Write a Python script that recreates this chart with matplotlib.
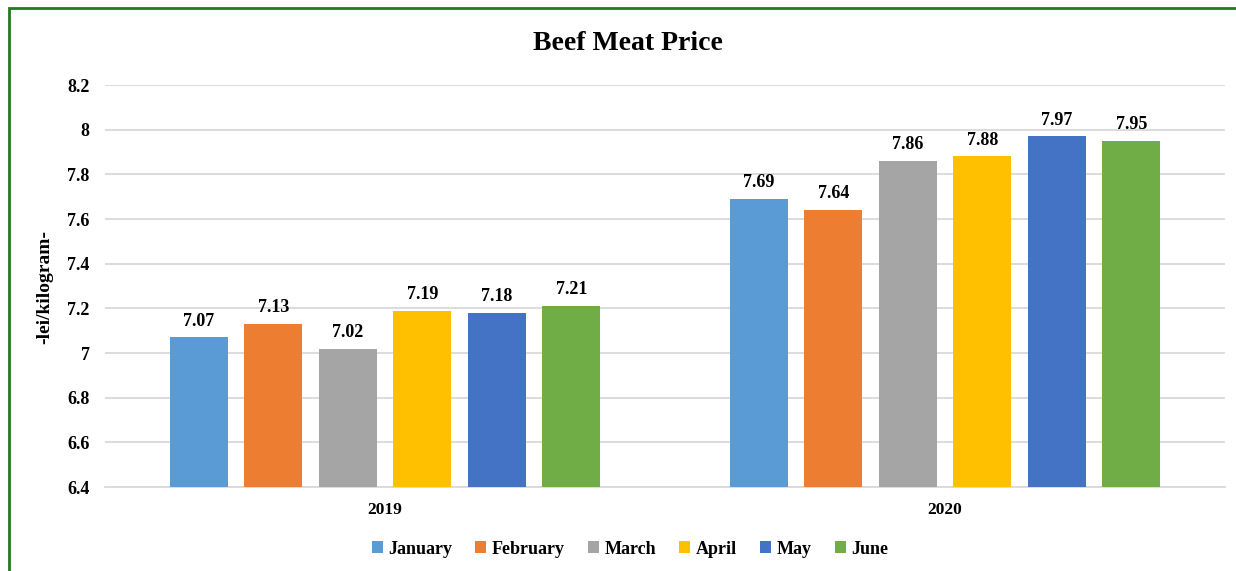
import matplotlib
matplotlib.use("Agg")
import matplotlib.pyplot as plt
from matplotlib.patches import Rectangle
import numpy as np

years = ["2019", "2020"]
months = ["January", "February", "March", "April", "May", "June"]
values = {
    "January": [7.07, 7.69],
    "February": [7.13, 7.64],
    "March": [7.02, 7.86],
    "April": [7.19, 7.88],
    "May": [7.18, 7.97],
    "June": [7.21, 7.95],
}
colors = ["#5B9BD5", "#ED7D31", "#A5A5A5", "#FFC000", "#4472C4", "#70AD47"]
yticks = [6.4, 6.6, 6.8, 7, 7.2, 7.4, 7.6, 7.8, 8, 8.2]

plt.rcParams['font.family'] = ['Liberation Serif', 'DejaVu Serif']

fig = plt.figure(figsize=(12.36, 5.71), dpi=100)
ax = fig.add_axes([105/1236, 1-487/571, (1225-105)/1236, (487-85)/571])

x = np.arange(len(years))
slot = 0.133
bw = 0.1036
for i, m in enumerate(months):
    pos = x + (i - 2.5) * slot
    bars = ax.bar(pos, values[m], width=bw, color=colors[i], label=m, zorder=3)
    for b, v in zip(bars, values[m]):
        ax.text(b.get_x() + b.get_width()/2, v + 0.035, f"{v:.2f}", ha='center', va='bottom',
                fontsize=13, fontweight='bold', zorder=4)

ax.set_xlim(-0.5, 1.5)
ax.set_ylim(6.4, 8.2)
ax.set_yticks(yticks)
ax.set_yticklabels([f"{t:g}" for t in yticks], fontsize=13, fontweight='bold')
ax.set_xticks(x)
ax.set_xticklabels(years, fontsize=12.5, fontweight='bold')
ax.tick_params(axis='both', length=0)
ax.tick_params(axis='y', pad=11)
ax.tick_params(axis='x', pad=11)
ax.grid(axis='y', color='#d9d9d9', linewidth=1.3, zorder=0)
for s in ['top', 'right', 'left']:
    ax.spines[s].set_visible(False)
ax.spines['bottom'].set_color('#d9d9d9')
ax.spines['bottom'].set_linewidth(1.3)

fig.text(45/1236, 1-287/571, "-lei/kilogram-", rotation=90, ha='center', va='center',
         fontsize=14, fontweight='bold')
fig.text(628/1236, 1-43/571, "Beef Meat Price", ha='center', va='center', fontsize=20, fontweight='bold')

leg = fig.legend(loc='center', bbox_to_anchor=(630/1236, 1-549/571), ncol=6, frameon=False,
                 prop={'weight': 'bold', 'size': 13}, handlelength=0.6, handleheight=0.6,
                 handletextpad=0.3, columnspacing=1.3)

fig.patches.append(Rectangle((9/1236, -0.1), 1.2, 1-8/571 + 0.1, transform=fig.transFigure,
                             fill=False, edgecolor='#1E7B1E', linewidth=2, zorder=10))

fig.savefig("out.png", dpi=100)
